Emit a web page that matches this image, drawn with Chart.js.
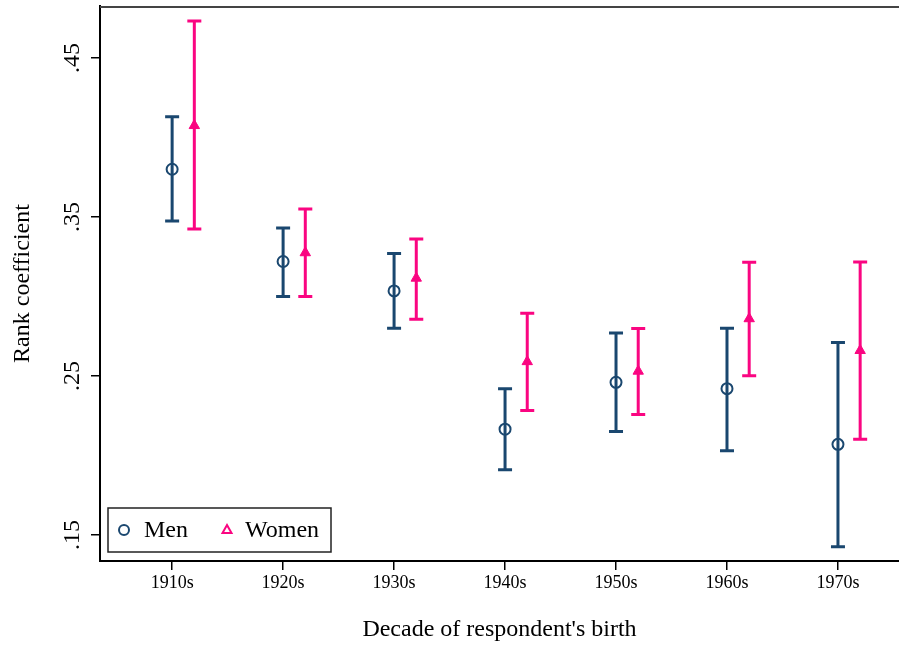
<!DOCTYPE html>
<html>
<head>
<meta charset="utf-8">
<script src="https://cdn.jsdelivr.net/npm/chart.js@4.4.0/dist/chart.umd.min.js"></script>
<style>
  body { margin: 0; background: #fff; }
  canvas { display: block; }
</style>
</head>
<body>
<canvas id="chart" width="899" height="645"></canvas>
<script>
const decades = ['1910s', '1920s', '1930s', '1940s', '1950s', '1960s', '1970s'];
const yTicks = [0.15, 0.25, 0.35, 0.45];

const menCoef = [0.380, 0.322, 0.3035, 0.2165, 0.246, 0.242, 0.207];
const menLow = [0.3475, 0.300, 0.280, 0.191, 0.215, 0.203, 0.1425];
const menHigh = [0.413, 0.343, 0.327, 0.242, 0.277, 0.280, 0.271];

const womenCoef = [0.4075, 0.3275, 0.3115, 0.259, 0.253, 0.286, 0.266];
const womenLow = [0.3425, 0.300, 0.2857, 0.2282, 0.2257, 0.2502, 0.2102];
const womenHigh = [0.4733, 0.355, 0.3362, 0.2894, 0.2798, 0.3215, 0.3217];

const NAVY = '#1a476f';
const PINK = '#fa0581';
const FONT = "'Liberation Serif', 'Times New Roman', serif";
const WOMEN_SHIFT = 0.2; // women plotted a bit to the right of each decade

// error bars, drawn under the markers
const errorBars = {
  id: 'errorBars',
  beforeDatasetsDraw(chart) {
    const { ctx, scales: { x, y } } = chart;
    const series = [
      { low: menLow, high: menHigh, shift: 0, color: NAVY },
      { low: womenLow, high: womenHigh, shift: WOMEN_SHIFT, color: PINK }
    ];
    ctx.save();
    ctx.lineWidth = 3;
    ctx.lineCap = 'butt';
    series.forEach(s => {
      ctx.strokeStyle = s.color;
      s.low.forEach((lo, i) => {
        const px = x.getPixelForValue(i + s.shift);
        const yLo = y.getPixelForValue(lo);
        const yHi = y.getPixelForValue(s.high[i]);
        ctx.beginPath();
        ctx.moveTo(px, yLo);
        ctx.lineTo(px, yHi);
        ctx.moveTo(px - 7, yLo);
        ctx.lineTo(px + 7, yLo);
        ctx.moveTo(px - 7, yHi);
        ctx.lineTo(px + 7, yHi);
        ctx.stroke();
      });
    });
    ctx.restore();
  }
};

// top border of the plot region + legend box inside the plot
const frameAndLegend = {
  id: 'frameAndLegend',
  afterDraw(chart) {
    const { ctx, chartArea: a } = chart;
    ctx.save();
    ctx.strokeStyle = '#444';
    ctx.lineWidth = 2;
    ctx.beginPath();
    ctx.moveTo(a.left, a.top + 1);
    ctx.lineTo(a.right, a.top + 1);
    ctx.stroke();

    const bx = a.left + 8, by = a.bottom - 53;
    ctx.fillStyle = '#fff';
    ctx.fillRect(bx, by, 223, 44);
    ctx.strokeStyle = '#222';
    ctx.lineWidth = 1.5;
    ctx.strokeRect(bx, by, 223, 44);

    const cy = by + 22;
    ctx.strokeStyle = NAVY;
    ctx.lineWidth = 2;
    ctx.beginPath();
    ctx.arc(bx + 16, cy, 5, 0, Math.PI * 2);
    ctx.stroke();

    ctx.strokeStyle = PINK;
    ctx.beginPath();
    ctx.moveTo(bx + 119, cy - 5);
    ctx.lineTo(bx + 123.5, cy + 3);
    ctx.lineTo(bx + 114.5, cy + 3);
    ctx.closePath();
    ctx.stroke();

    ctx.fillStyle = '#000';
    ctx.font = '24px ' + FONT;
    ctx.textBaseline = 'middle';
    ctx.fillText('Men', bx + 36, cy + 1);
    ctx.fillText('Women', bx + 137, cy + 1);
    ctx.restore();
  }
};

// fixed axis sizes, no extra padding for labels
function fixSize(prop, val) {
  return scale => {
    scale[prop] = val;
    scale.paddingTop = 0;
    scale.paddingBottom = 0;
    scale.paddingLeft = 0;
    scale.paddingRight = 0;
  };
}

new Chart(document.getElementById('chart'), {
  type: 'scatter',
  data: {
    datasets: [
      {
        label: 'Men',
        data: menCoef.map((v, i) => ({ x: i, y: v })),
        pointStyle: 'circle',
        pointRadius: 5.5,
        pointBorderWidth: 2,
        pointBorderColor: NAVY,
        pointBackgroundColor: 'rgba(0,0,0,0)'
      },
      {
        label: 'Women',
        data: womenCoef.map((v, i) => ({ x: i + WOMEN_SHIFT, y: v })),
        pointStyle: 'triangle',
        pointRadius: 6,
        pointBorderWidth: 1,
        pointBorderColor: PINK,
        pointBackgroundColor: PINK
      }
    ]
  },
  options: {
    responsive: false,
    animation: false,
    layout: { autoPadding: false, padding: { top: 6, right: 0, bottom: 0, left: 0 } },
    plugins: {
      legend: { display: false },
      tooltip: { enabled: false }
    },
    scales: {
      x: {
        type: 'linear',
        min: -0.65,
        max: 6.55,
        afterBuildTicks: scale => { scale.ticks = decades.map((d, i) => ({ value: i })); },
        afterFit: fixSize('height', 84),
        ticks: {
          color: '#000',
          font: { family: FONT, size: 18 },
          padding: 2,
          autoSkip: false,
          maxRotation: 0,
          callback: v => decades[v]
        },
        grid: { drawOnChartArea: false, drawTicks: true, tickLength: 9, color: '#000', lineWidth: 1.5 },
        border: { display: true, color: '#000', width: 2 },
        title: {
          display: true,
          text: "Decade of respondent's birth",
          color: '#000',
          font: { family: FONT, size: 24 },
          padding: { top: 0, bottom: 1 }
        }
      },
      y: {
        min: 0.1336,
        max: 0.4827,
        afterBuildTicks: scale => { scale.ticks = yTicks.map(v => ({ value: v })); },
        afterFit: fixSize('width', 100),
        ticks: {
          color: '#000',
          font: { family: FONT, size: 24 },
          padding: 3,
          minRotation: 90,
          maxRotation: 90,
          crossAlign: 'center',
          callback: v => v.toFixed(2).replace(/^0/, '')
        },
        grid: { drawOnChartArea: false, drawTicks: true, tickLength: 9, color: '#000', lineWidth: 1.5 },
        border: { display: true, color: '#000', width: 2 },
        title: {
          display: true,
          text: 'Rank coefficient',
          color: '#000',
          font: { family: FONT, size: 24 },
          padding: { top: 8, bottom: 0 }
        }
      }
    }
  },
  plugins: [errorBars, frameAndLegend]
});
</script>
</body>
</html>
